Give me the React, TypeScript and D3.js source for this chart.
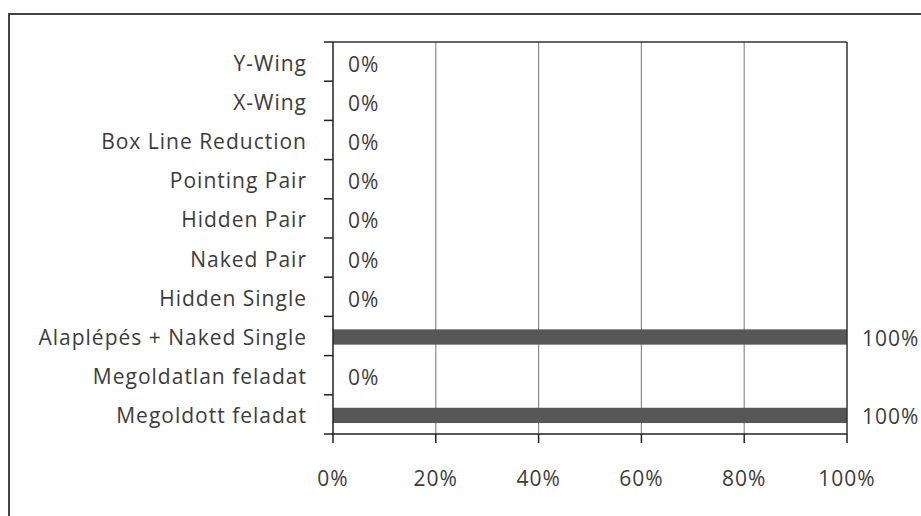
import React from "react";
import * as d3 from "d3";

const categories = [
  "Y-Wing",
  "X-Wing",
  "Box Line Reduction",
  "Pointing Pair",
  "Hidden Pair",
  "Naked Pair",
  "Hidden Single",
  "Alaplépés + Naked Single",
  "Megoldatlan feladat",
  "Megoldott feladat",
];
const values = [0, 0, 0, 0, 0, 0, 0, 100, 0, 100];
const xTicks = [0, 20, 40, 60, 80, 100];

const W = 921;
const H = 516;
const FONT = "'Open Sans', sans-serif";
const FS = 21;
const LS = 1;

export default function App() {
  const left = 333;
  const right = 847;
  const top = 42;
  const bottom = 434;
  const x = d3.scaleLinear().domain([0, 100]).range([left, right]);
  const y = d3.scaleBand<string>().domain(categories).range([top, bottom]).paddingInner(0).paddingOuter(0);
  const barH = y.bandwidth() * 0.39;
  const fmt = (v: number) => `${v}%`;
  const textColor = "#3c3c3c";

  return (
    <svg width={W} height={H} style={{ position: "absolute", left: 0, top: 0, background: "#fff" }}>
      <rect x={0} y={0} width={W} height={H} fill="#fff" />
      {/* outer chart border */}
      <rect x={9} y={14} width={W + 20} height={H + 20} fill="none" stroke="#444" strokeWidth={2} />
      {/* gridlines */}
      {xTicks.slice(1, -1).map((t) => (
        <line key={"g" + t} x1={x(t)} x2={x(t)} y1={top} y2={bottom} stroke="#8a8a8a" strokeWidth={1.2} />
      ))}
      {/* bars */}
      {categories.map((c, i) => (
        <rect
          key={"b" + c}
          x={x(0)}
          y={(y(c) as number) + y.bandwidth() / 2 - barH / 2 + 1}
          width={x(values[i]) - x(0)}
          height={barH}
          fill="#575757"
        />
      ))}
      {/* plot frame top & right */}
      <line x1={left} x2={right} y1={top} y2={top} stroke="#333" strokeWidth={1.5} />
      <line x1={right} x2={right} y1={top} y2={bottom} stroke="#333" strokeWidth={1.5} />
      {/* y axis */}
      <line x1={left} x2={left} y1={top} y2={bottom} stroke="#222" strokeWidth={1.5} />
      {[...categories.map((c) => y(c) as number), bottom].map((v, i) => (
        <line key={"yt" + i} x1={left - 9} x2={left} y1={v} y2={v} stroke="#222" strokeWidth={1.5} />
      ))}
      {/* x axis */}
      <line x1={left} x2={right} y1={bottom} y2={bottom} stroke="#222" strokeWidth={1.5} />
      {xTicks.map((t) => (
        <line key={"xt" + t} x1={x(t)} x2={x(t)} y1={bottom} y2={bottom + 9} stroke="#222" strokeWidth={1.5} />
      ))}
      {/* x tick labels */}
      {xTicks.map((t) => (
        <text
          key={"xl" + t}
          x={x(t)}
          y={478}
          textAnchor="middle"
          dominantBaseline="central"
          fontFamily={FONT}
          fontSize={FS}
          letterSpacing={LS}
          fill={textColor}
        >
          {fmt(t)}
        </text>
      ))}
      {/* category labels */}
      {categories.map((c) => (
        <text
          key={"cl" + c}
          x={307}
          y={(y(c) as number) + y.bandwidth() / 2 + 1}
          textAnchor="end"
          dominantBaseline="central"
          fontFamily={FONT}
          fontSize={FS}
          letterSpacing={LS}
          fill={textColor}
        >
          {c}
        </text>
      ))}
      {/* value labels */}
      {categories.map((c, i) => (
        <text
          key={"vl" + c}
          x={x(values[i]) + 15}
          y={(y(c) as number) + y.bandwidth() / 2 + 2}
          textAnchor="start"
          dominantBaseline="central"
          fontFamily={FONT}
          fontSize={FS}
          letterSpacing={LS}
          fill={textColor}
        >
          {fmt(values[i])}
        </text>
      ))}
    </svg>
  );
}
